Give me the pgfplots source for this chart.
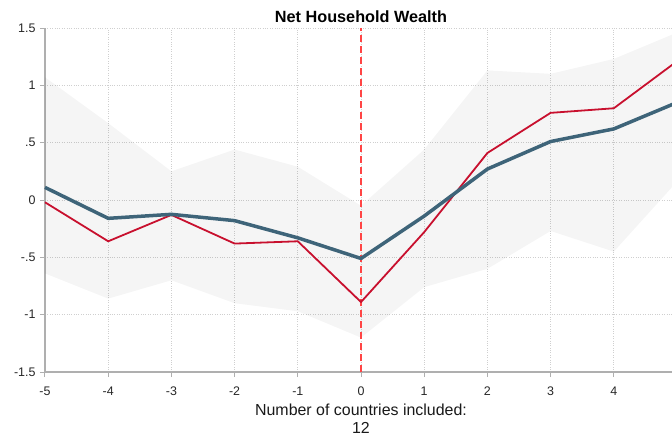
\documentclass[border=0pt]{standalone}
\usepackage{pgfplots}
\pgfplotsset{compat=1.18}
\usepackage{fontspec}
\setmainfont{Liberation Sans}
\definecolor{bluel}{HTML}{3E6479}
\definecolor{redl}{HTML}{C8102E}
\definecolor{dashred}{HTML}{FF4545}
\definecolor{axgray}{HTML}{AFAFAF}
\definecolor{gridgray}{HTML}{CFCFCF}
\begin{document}
\begin{tikzpicture}
\path[use as bounding box] (-45bp,-64bp) rectangle (627bp,372bp);
\begin{axis}[
  scale only axis,
  width=632bp, height=344bp,
  xmin=-5, xmax=5, ymin=-1.5, ymax=1.5,
  axis lines=left,
  axis line style={-, draw=axgray, line width=1.5bp},
  xtick={-5,-4,-3,-2,-1,0,1,2,3,4},
  ytick={-1.5,-1,-0.5,0,0.5,1,1.5},
  yticklabels={-1.5,-1,-.5,0,.5,1,1.5},
  tick align=outside,
  major tick length=5bp,
  tick style={draw=axgray, line width=1bp},
  grid=major,
  grid style={draw=gridgray, dotted, line width=0.8bp},
  /pgf/number format/assume math mode=true,
  ticklabel style={font=\fontsize{12.5}{14}\selectfont, text=black!85},
  xticklabel style={yshift=-6bp},
  yticklabel style={xshift=-1bp},
  title={\textbf{Net Household Wealth}},
  title style={font=\fontsize{16.3}{18}\selectfont, yshift=-4bp},
  xlabel={Number of countries included:\\12},
  xlabel style={font=\fontsize{16}{18}\selectfont, align=center, yshift=-2bp, text=black!90},
  clip=false,
]
% confidence band
\addplot[draw=none, fill=black, fill opacity=0.04] coordinates {
 (-5,1.07) (-4,0.67) (-3,0.25) (-2,0.44) (-1,0.29) (0,-0.05) (1,0.44) (2,1.13) (3,1.10) (4,1.23) (5,1.46)
 (5,0.16) (4,-0.45) (3,-0.27) (2,-0.60) (1,-0.76) (0,-1.20) (-1,-0.97) (-2,-0.90) (-3,-0.70) (-4,-0.86) (-5,-0.64)
} -- cycle;
% vertical dashed line
\addplot[dashred, line width=1.6bp, dash pattern=on 7bp off 4bp] coordinates {(0,-1.5) (0,1.5)};
% red line
\addplot[redl, line width=1.8bp, line join=round] coordinates {
 (-5,-0.02) (-4,-0.36) (-3,-0.13) (-2,-0.38) (-1,-0.36) (0,-0.89) (1,-0.28) (2,0.41) (3,0.76) (4,0.80) (5,1.21)
};
% blue line
\addplot[bluel, line width=3.5bp, line join=round] coordinates {
 (-5,0.11) (-4,-0.16) (-3,-0.125) (-2,-0.18) (-1,-0.33) (0,-0.51) (1,-0.14) (2,0.27) (3,0.51) (4,0.62) (5,0.85)
};
\end{axis}
\end{tikzpicture}
\end{document}
